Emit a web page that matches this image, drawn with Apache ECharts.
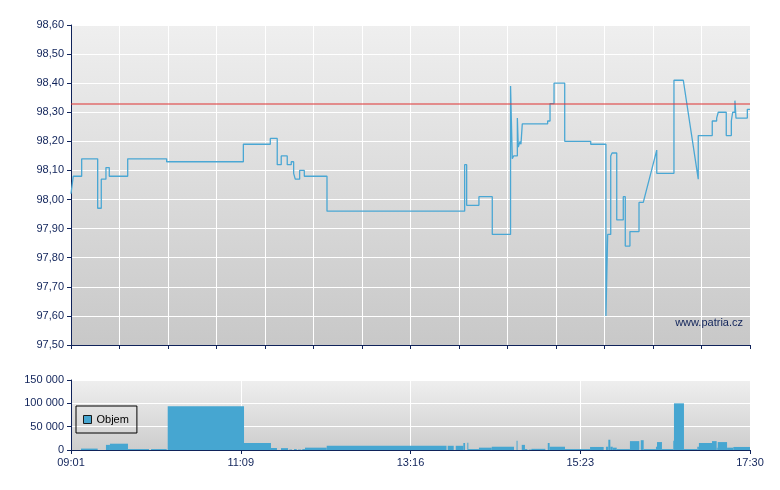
<!DOCTYPE html>
<html><head><meta charset="utf-8">
<script src="https://cdn.jsdelivr.net/npm/echarts@6/dist/echarts.min.js"></script>
<style>html,body{margin:0;padding:0;background:#fff}#c{width:780px;height:490px}</style>
</head><body><div id="c"></div>
<script>
// minutes since 09:01
const priceTimes = [0,1.7,8,8,20,20,22.7,22.7,26.2,26.2,28.7,28.7,42.5,42.5,71.7,71.7,129.2,129.2,149.4,149.4,154.6,154.6,157.6,157.6,162.1,162.1,165.1,165.1,166.9,166.9,168.1,168.1,171.4,171.4,174.9,174.9,191.9,191.9,295.1,295.1,296.6,296.6,305.8,305.8,315.8,315.8,329.5,329.5,330.8,330.8,331.8,331.8,334.6,334.6,335.3,335.3,336.6,336.6,337.3,337.3,338.3,338.3,357.3,357.3,359.1,359.1,362.1,362.1,370.1,370.1,389.6,389.6,401,401,402.3,402.3,404.6,404.6,405.6,405.6,409.1,409.1,414,414,415.5,415.5,419,419,425.8,425.8,429,439.1,439.1,452,452,459,470.2,470.2,480.7,480.7,484,484,485.2,485.2,491.2,491.2,495,495,496,496,497.7,497.7,498.5,498.5,507,507,509];
const priceValues = [98.02,98.08,98.08,98.14,98.14,97.97,97.97,98.07,98.07,98.11,98.11,98.08,98.08,98.14,98.14,98.13,98.13,98.19,98.19,98.21,98.21,98.12,98.12,98.15,98.15,98.12,98.12,98.13,98.13,98.09,98.09,98.07,98.07,98.10,98.10,98.08,98.08,97.96,97.96,98.12,98.12,97.98,97.98,98.01,98.01,97.88,97.88,98.39,98.39,98.14,98.14,98.15,98.15,98.28,98.28,98.18,98.18,98.20,98.20,98.19,98.19,98.26,98.26,98.27,98.27,98.33,98.33,98.40,98.40,98.20,98.20,98.19,98.19,97.60,97.60,97.88,97.88,98.15,98.15,98.16,98.16,97.93,97.93,98.01,98.01,97.84,97.84,97.89,97.89,97.99,97.99,98.17,98.09,98.09,98.41,98.41,98.07,98.22,98.22,98.27,98.27,98.28,98.28,98.30,98.30,98.22,98.22,98.27,98.27,98.30,98.30,98.34,98.34,98.28,98.28,98.31,98.31];
const refPrice = 98.333;

// volume bar start times (minutes since 09:01); each bar lasts until the next start
const volTimes = [0,7.5,20,26.2,29.2,42.7,58.5,60,71.7,72.5,129.7,149.9,154.4,157.4,162.7,163.6,165.7,167.2,169.2,170.2,172.6,173.4,175.4,191.7,281.5,282.4,286.9,288.4,294.1,295.4,297.1,297.6,305.8,315.4,332.1,334,334.7,337.9,340.3,342.1,343.1,345.1,355.6,357.4,358.8,370.3,389.1,399.3,401,402.8,404.3,406.1,409.1,419,426,427.1,429.3,438.5,439.3,443,451.5,452,459.5,469.5,470.7,480.5,484,484.8,491.8,496.5,509];
const volValues = [0,3000,0,11000,13500,2000,0,2000,0,94000,15000,4300,0,4000,0,1000,0,2000,0,1000,0,2000,5000,9000,0,9000,0,9000,15000,0,15700,2000,5000,7000,0,20000,0,11000,2000,0,1000,2500,0,15000,7000,2000,6500,0,7000,22000,7000,5000,2000,19000,0,21000,2000,7000,17000,2000,20000,100000,2000,7000,15000,19000,5000,17000,5000,6500,6500];

const timeLabels = ['09:01','11:09','13:16','15:23','17:30'];
const sessionLength = 509;

const navy = '#10235a';
const barBlue = '#46a6d1';
const font = 'Arial, "Liberation Sans", sans-serif';
const bgGrad = (a, b) => ({type:'linear', x:0, y:0, x2:0, y2:1, colorStops:[{offset:0,color:a},{offset:1,color:b}]});

const volBars = [];
for (let i = 0; i < volTimes.length - 1; i++) volBars.push([volTimes[i], volTimes[i+1], volValues[i]]);

const chart = echarts.init(document.getElementById('c'), null, {renderer:'canvas'});
chart.setOption({
  animation: false,
  backgroundColor: '#fff',
  textStyle: {fontFamily: font},
  grid: [
    {left:71, top:25, width:679, height:320, show:true, borderWidth:0, backgroundColor: bgGrad('#efefef','#c8c8c8')},
    {left:71, top:380, width:679, height:70, show:true, borderWidth:0, backgroundColor: bgGrad('#efefef','#cdcdcd')}
  ],
  legend: {
    data:[{name:'Objem', icon:'rect'}],
    left:76, top:406, orient:'vertical',
    borderColor:'#000', borderWidth:1, padding:[8,8,8,7],
    itemWidth:8, itemHeight:8,
    itemStyle:{borderColor:'#1a1a1a', borderWidth:1},
    textStyle:{fontSize:11, color:'#000', fontFamily:font}
  },
  xAxis: [
    {gridIndex:0, type:'value', min:0, max:sessionLength, interval:sessionLength/14,
     axisLine:{show:true, onZero:false, lineStyle:{color:navy}},
     axisTick:{show:true, length:4, lineStyle:{color:navy}},
     axisLabel:{show:false},
     splitLine:{show:true, lineStyle:{color:'#fff', width:1}}},
    {gridIndex:1, type:'value', min:0, max:sessionLength, interval:sessionLength/4,
     axisLine:{show:true, onZero:false, lineStyle:{color:navy}},
     axisTick:{show:true, length:4, lineStyle:{color:navy}},
     axisLabel:{show:true, color:navy, fontSize:11, fontFamily:font, margin:7,
       formatter: v => timeLabels[Math.round(v/(sessionLength/4))]},
     splitLine:{show:true, lineStyle:{color:'#fff', width:1}}}
  ],
  yAxis: [
    {gridIndex:0, type:'value', min:97.5, max:98.6, interval:0.1,
     axisLine:{show:true, lineStyle:{color:navy}},
     axisTick:{show:true, length:4, lineStyle:{color:navy}},
     axisLabel:{color:navy, fontSize:11, fontFamily:font, margin:7,
       formatter: v => v.toFixed(2).replace('.', ',')},
     splitLine:{show:true, lineStyle:{color:'#fff', width:1}}},
    {gridIndex:1, type:'value', min:0, max:150000, interval:50000,
     axisLine:{show:true, lineStyle:{color:navy}},
     axisTick:{show:true, length:4, lineStyle:{color:navy}},
     axisLabel:{color:navy, fontSize:11, fontFamily:font, margin:7,
       formatter: v => String(Math.round(v)).replace(/\B(?=(\d{3})+(?!\d))/g, ' ')},
     splitLine:{show:true, lineStyle:{color:'#fff', width:1}}}
  ],
  graphic: [{type:'text', right:37, top:317, style:{text:'www.patria.cz', fill:navy, font:'11px '+font}}],
  series: [
    {name:'Cena', type:'line', xAxisIndex:0, yAxisIndex:0, symbol:'none', silent:true,
     data: priceTimes.map((t,i)=>[t, priceValues[i]]),
     lineStyle:{color:'#4aa7d4', width:1.3},
     markLine:{silent:true, symbol:'none', label:{show:false},
       lineStyle:{color:'#e03a3a', type:'solid', width:1.5, opacity:0.7},
       data:[{yAxis:refPrice}]}},
    {name:'Objem', type:'custom', xAxisIndex:1, yAxisIndex:1, silent:true,
     data: volBars,
     encode:{x:[0,1], y:2},
     itemStyle:{color:barBlue},
     renderItem: (params, api) => {
       const v = api.value(2);
       if (!v) return null;
       const p0 = api.coord([api.value(0), v]);
       const p1 = api.coord([api.value(1), 0]);
       return {type:'rect', shape:{x:p0[0], y:p0[1], width:Math.max(p1[0]-p0[0], 1), height:p1[1]-p0[1]},
               style:{fill:barBlue}};
     }}
  ]
});
</script></body></html>
